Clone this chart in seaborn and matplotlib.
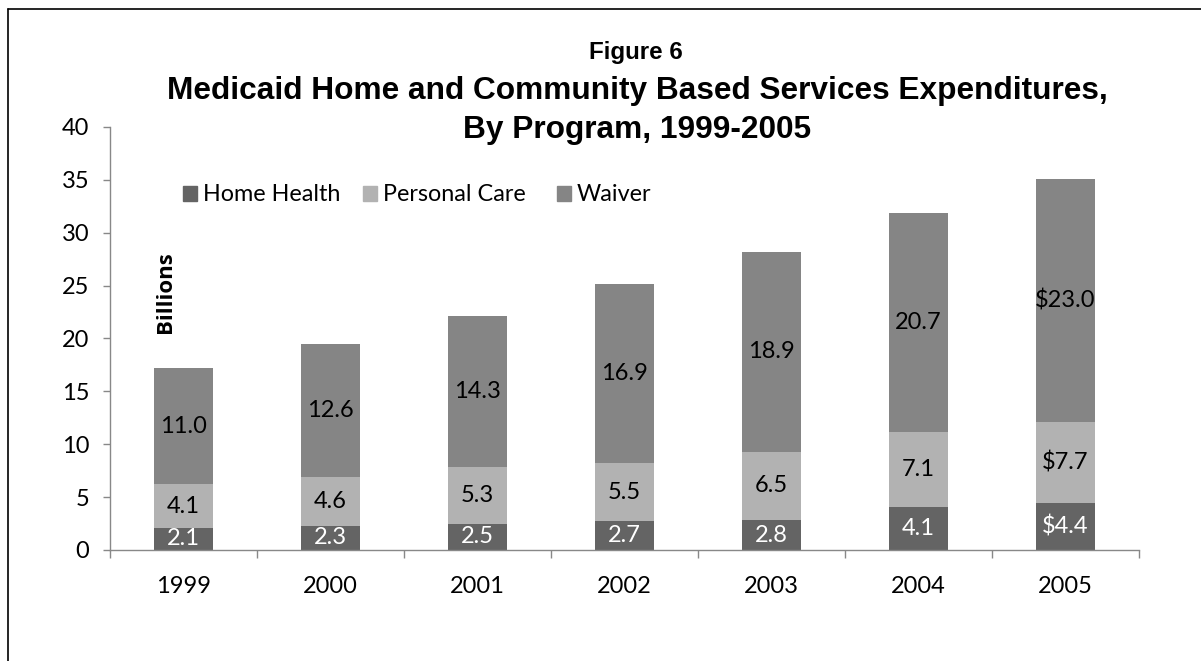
import matplotlib
matplotlib.use('Agg')
import matplotlib.pyplot as plt
import matplotlib.patches as mpatches
import matplotlib.lines as mlines
import seaborn as sns
import numpy as np
import pandas as pd

years = ['1999', '2000', '2001', '2002', '2003', '2004', '2005']
home_health = [2.1, 2.3, 2.5, 2.7, 2.8, 4.1, 4.4]
personal_care = [4.1, 4.6, 5.3, 5.5, 6.5, 7.1, 7.7]
waiver = [11.0, 12.6, 14.3, 16.9, 18.9, 20.7, 23.0]
dollar_years = ['2005']
series_names = ['Home Health', 'Personal Care', 'Waiver']

c_hh = '#646464'
c_pc = '#b2b2b2'
c_wv = '#858585'

df = pd.DataFrame({'year': years, 'hh': home_health, 'pc': personal_care, 'wv': waiver})
df['hh_pc'] = df['hh'] + df['pc']
df['total'] = df['hh_pc'] + df['wv']

sns.set_style('white')
plt.rcParams['font.family'] = ['Lato', 'DejaVu Sans']
plt.rcParams['text.color'] = 'black'
plt.rcParams['xtick.labelcolor'] = 'black'
plt.rcParams['ytick.labelcolor'] = 'black'

fig = plt.figure(figsize=(12.01, 6.61), dpi=100)
ax = fig.add_axes([0.0916, 0.168, 0.8568, 0.640])

# stacked bars drawn as overlapping cumulative totals
sns.barplot(data=df, x='year', y='total', color=c_wv, width=0.4, saturation=1, linewidth=0, ax=ax)
sns.barplot(data=df, x='year', y='hh_pc', color=c_pc, width=0.4, saturation=1, linewidth=0, ax=ax)
sns.barplot(data=df, x='year', y='hh', color=c_hh, width=0.4, saturation=1, linewidth=0, ax=ax)

for i, row in df.iterrows():
    pre = '$' if row['year'] in dollar_years else ''
    ax.text(i, row['hh'] / 2, '{}{:.1f}'.format(pre, row['hh']), ha='center', va='center',
            color='white', fontsize=17)
    ax.text(i, row['hh'] + row['pc'] / 2, '{}{:.1f}'.format(pre, row['pc']), ha='center', va='center',
            color='black', fontsize=17)
    ax.text(i, row['hh_pc'] + row['wv'] / 2, '{}{:.1f}'.format(pre, row['wv']), ha='center',
            va='center', color='black', fontsize=17)

ax.set_ylim(0, 40)
ax.set_xlim(-0.5, 6.5)
ax.set_yticks(np.arange(0, 41, 5))
ax.set_xlabel('')
ax.set_ylabel('')
ax.set_xticks(np.arange(-0.5, 7, 1), minor=True)
ax.tick_params(axis='x', which='major', length=0, pad=19, labelsize=17, bottom=False)
ax.tick_params(axis='x', which='minor', length=6, color='#888888', width=1, direction='out', bottom=True)
ax.tick_params(axis='y', length=5, color='#888888', width=1, direction='out', labelsize=17, pad=10, left=True)
for s in ['top', 'right']:
    ax.spines[s].set_visible(False)
for s in ['left', 'bottom']:
    ax.spines[s].set_color('#888888')
    ax.spines[s].set_linewidth(1)

ax.text(0.054, 0.61, 'Billions', transform=ax.transAxes, rotation=90, ha='center', va='center',
        fontsize=16, fontweight='bold', family=['Open Sans', 'DejaVu Sans'])

fig.text(0.5296, 0.9103, 'Figure 6', ha='center', va='baseline', fontsize=17.4, fontweight='bold',
         family='Liberation Sans')
fig.text(0.5308, 0.8498, 'Medicaid Home and Community Based Services Expenditures,',
         ha='center', va='baseline', fontsize=22.8, fontweight='bold', family='Liberation Sans')
fig.text(0.5305, 0.7907, 'By Program, 1999-2005',
         ha='center', va='baseline', fontsize=22.8, fontweight='bold', family='Liberation Sans')

# one legend entry per series, each anchored where the reference puts its swatch
legend_x = [0.1524, 0.3022, 0.4638]
for name, col, lx in zip(series_names, [c_hh, c_pc, c_wv], legend_x):
    leg = fig.legend(handles=[mpatches.Patch(color=col, label=name)], loc='center left',
                     bbox_to_anchor=(lx, 0.705), frameon=False, fontsize=16.8, handlelength=0.6,
                     handleheight=0.64, handletextpad=0.26, borderpad=0, borderaxespad=0)

# outer frame (top and left edges)
fig.add_artist(mlines.Line2D([0.007, 1.0], [0.986, 0.986], color='black', lw=1.2, transform=fig.transFigure))
fig.add_artist(mlines.Line2D([0.007, 0.007], [0.0, 0.986], color='black', lw=1.2, transform=fig.transFigure))

fig.savefig('out.png', dpi=100)
